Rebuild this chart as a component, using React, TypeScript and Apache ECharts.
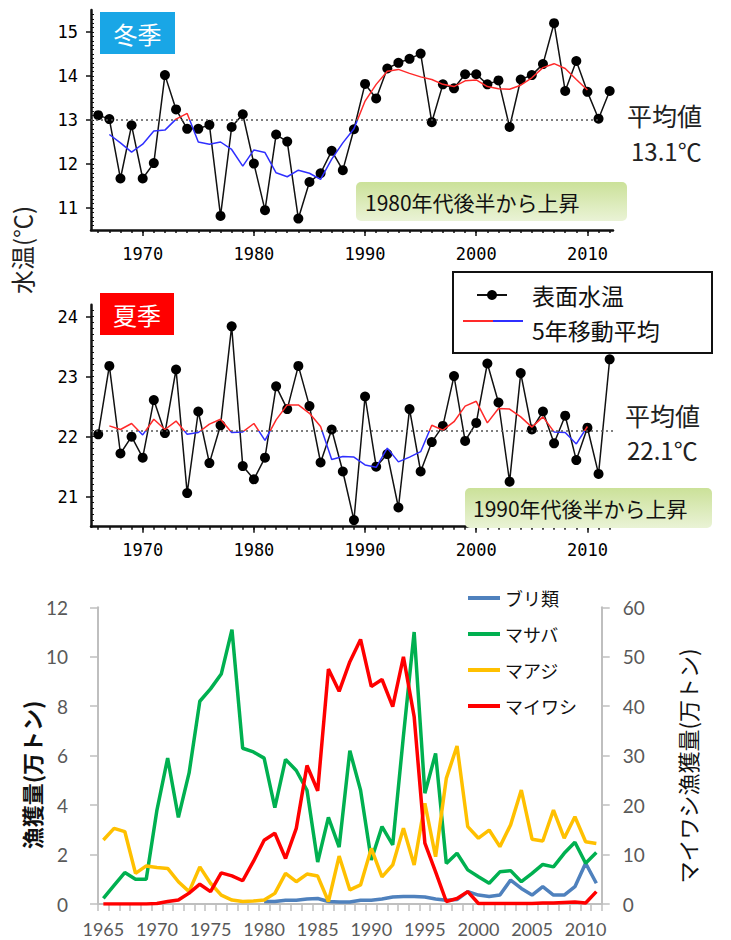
import React, { useEffect, useRef } from "react";
import * as echarts from "echarts";

// ---------- data ----------
const TEMP_START = 1966;
const WINTER_TEMP = [
  13.11, 13.02, 11.67, 12.88, 11.67, 12.02, 14.02, 13.24, 12.8, 12.8,
  12.89, 10.82, 12.84, 13.13, 12.01, 10.95, 12.67, 12.51, 10.76, 11.59,
  11.79, 12.3, 11.86, 12.79, 13.82, 13.49, 14.17, 14.3, 14.39, 14.51,
  12.95, 13.81, 13.72, 14.04, 14.04, 13.81, 13.9, 12.84, 13.92, 14.02,
  14.27, 15.2, 13.66, 14.34, 13.64, 13.03, 13.66,
];
const MA_START = 1967;
const WINTER_MA = [
  12.67, 12.48, 12.27, 12.45, 12.75, 12.77, 13.02, 13.15, 12.5, 12.45,
  12.5, 12.33, 11.95, 12.32, 12.26, 11.8, 11.71, 11.86, 11.79, 11.65,
  12.11, 12.48, 12.8, 13.43, 13.81, 14.11, 14.15, 14.06, 13.98, 13.92,
  13.81, 13.76, 13.89, 13.91, 13.76, 13.71, 13.7, 13.79, 13.96, 14.19,
  14.28, 14.17, 13.92, 13.68,
];
const SUMMER_TEMP = [
  22.04, 23.18, 21.72, 22.0, 21.65, 22.61, 22.06, 23.12, 21.06, 22.42,
  21.56, 22.19, 23.84, 21.51, 21.29, 21.65, 22.84, 22.46, 23.18, 22.51,
  21.57, 22.12, 21.42, 20.61, 22.67, 21.5, 21.71, 20.82, 22.46, 21.42,
  21.91, 22.18, 23.01, 21.93, 22.23, 23.22, 22.57, 21.25, 23.06, 22.12,
  22.42, 21.89, 22.35, 21.61, 22.15, 21.38, 23.29,
];
const SUMMER_MA = [
  22.18, 22.12, 22.22, 22.03, 22.29, 22.12, 22.26, 22.04, 22.07, 22.21,
  22.29, 22.07, 22.08, 22.22, 21.94, 22.28, 22.53, 22.53, 22.39, 22.17,
  21.62, 21.67, 21.66, 21.53, 21.49, 21.81, 21.58, 21.66, 21.75, 22.19,
  22.11, 22.25, 22.51, 22.59, 22.23, 22.47, 22.46, 22.33, 22.16, 22.33,
  22.08, 22.07, 21.88, 22.17,
];
const WINTER_MEAN_LINE = 13.0;
const SUMMER_MEAN_LINE = 22.1;
const WINTER_MEAN_TEXT = "13.1℃";
const SUMMER_MEAN_TEXT = "22.1℃";

const CATCH_YEARS = Array.from({ length: 47 }, (_, i) => String(1965 + i));
const BURI = [
  null, null, null, null, null, null, null, null, null, null,
  null, null, null, null, null, 0.1, 0.1, 0.15, 0.15, 0.2,
  0.22, 0.1, 0.08, 0.08, 0.15, 0.15, 0.2, 0.28, 0.3, 0.3,
  0.28, 0.2, 0.15, 0.18, 0.5, 0.36, 0.3, 0.36, 0.97, 0.63,
  0.36, 0.7, 0.36, 0.36, 0.7, 1.65, 0.84,
];
const MASABA = [
  0.23, 0.75, 1.27, 1.0, 1.0, 3.8, 5.9, 3.5, 5.3, 8.2,
  8.7, 9.3, 11.1, 6.3, 6.15, 5.9, 3.9, 5.85, 5.4, 4.6,
  1.7, 3.5, 2.3, 6.2, 4.6, 1.78, 3.13, 2.39, 6.8, 11.0,
  4.48, 6.09, 1.64, 2.05, 1.38, 1.1, 0.84, 1.3, 1.35, 0.9,
  1.24, 1.6, 1.5, 2.05, 2.5, 1.65, 2.08,
];
const MAAJI = [
  2.59, 3.06, 2.93, 1.24, 1.54, 1.48, 1.44, 0.9, 0.5, 1.5,
  0.84, 0.36, 0.16, 0.1, 0.12, 0.16, 0.43, 1.24, 0.9, 1.21,
  1.13, 0.1, 1.94, 0.57, 0.77, 2.25, 1.1, 1.58, 3.06, 1.58,
  4.07, 1.91, 5.08, 6.39, 3.13, 2.66, 2.99, 2.32, 3.2, 4.61,
  2.62, 2.55, 3.8, 2.66, 3.53, 2.52, 2.45,
];
const MAIWASHI = [
  0, 0, 0, 0, 0, 0.1, 0.5, 0.8, 2.2, 4.0,
  2.5, 6.3, 5.7, 4.7, 8.6, 12.9, 14.3, 9.2, 15.3, 28.0,
  22.9, 47.5, 43.0, 49.0, 53.5, 44.0, 45.4, 39.9, 50.0, 37.9,
  12.3, 6.5, 0.5, 1.1, 2.5, 0.1, 0.1, 0.1, 0.1, 0.1,
  0.1, 0.2, 0.2, 0.3, 0.4, 0.2, 2.5,
];

const BLUE = "#2f2fff";
const RED = "#ff2a2a";
const CJK = "'Noto Sans CJK JP', sans-serif";
const MONO = "'DejaVu Sans Mono', monospace";

function pairs(start: number, vals: number[]) {
  return vals.map((v, i) => [start + i, v]);
}

// ---------- layout of the two temperature panels ----------
const X_MIN = 1965.35;
const X_MAX = 2012.3;
const PLOT_LEFT = 91;
const PLOT_W = 522;

type Panel = {
  top: number; height: number; yMin: number; yMax: number;
  labMin: number; labMax: number; rulMin: number; rulMax: number;
};
const WINTER_P: Panel = { top: 10, height: 220, yMin: 10.5, yMax: 15.5, labMin: 11, labMax: 15, rulMin: 10.6, rulMax: 15.4 };
const SUMMER_P: Panel = { top: 304.7, height: 222, yMin: 20.5, yMax: 24.2, labMin: 21, labMax: 24, rulMin: 20.6, rulMax: 24.1 };

const px = (yr: number) => PLOT_LEFT + ((yr - X_MIN) * PLOT_W) / (X_MAX - X_MIN);
const py = (p: Panel, v: number) => p.top + ((p.yMax - v) * p.height) / (p.yMax - p.yMin);

const hidden = {
  axisLine: { show: false }, axisTick: { show: false }, axisLabel: { show: false }, splitLine: { show: false },
};

function panelGrids(p: Panel) {
  return [
    { left: PLOT_LEFT, top: p.top, width: PLOT_W, height: p.height },
    { left: px(1970), top: py(p, p.labMax), width: px(2010) - px(1970), height: py(p, p.labMin) - py(p, p.labMax) },
    { left: px(1966), top: py(p, p.rulMax), width: px(2012) - px(1966), height: py(p, p.rulMin) - py(p, p.rulMax) },
  ].map((g) => ({ ...g, outerBoundsMode: "none" }));
}
function panelX(p: Panel, g0: number) {
  const bottom = p.top + p.height;
  return [
    {
      type: "value", gridIndex: g0, position: "bottom", min: X_MIN, max: X_MAX, ...hidden,
      axisLine: { show: true, lineStyle: { color: "#111", width: 2.5 } },
    },
    {
      type: "value", gridIndex: g0 + 1, position: "bottom", min: 1970, max: 2010, interval: 10,
      offset: bottom - py(p, p.labMin), ...hidden,
      axisTick: { show: true, length: 6, lineStyle: { color: "#111", width: 1.5 } },
      axisLabel: {
        show: true, margin: 15, fontFamily: MONO, fontSize: 17, color: "#000",
        formatter: (v: number) => String(v),
      },
    },
    {
      type: "value", gridIndex: g0 + 2, position: "bottom", min: 1966, max: 2012, interval: 1,
      offset: bottom - py(p, p.rulMin), ...hidden,
      axisTick: { show: true, length: 3, lineStyle: { color: "#111", width: 1.5 } },
    },
  ];
}
function panelY(p: Panel, g0: number) {
  return [
    {
      type: "value", gridIndex: g0, position: "left", min: p.yMin, max: p.yMax, ...hidden,
      axisLine: { show: true, lineStyle: { color: "#111", width: 2.5 } },
    },
    {
      type: "value", gridIndex: g0 + 1, position: "left", min: p.labMin, max: p.labMax, interval: 1,
      offset: px(1970) - PLOT_LEFT, ...hidden,
      axisTick: { show: true, length: 5, lineStyle: { color: "#111", width: 1.5 } },
      axisLabel: { show: true, margin: 13, fontFamily: MONO, fontSize: 17, color: "#000" },
    },
    {
      type: "value", gridIndex: g0 + 2, position: "left", min: p.rulMin, max: p.rulMax, interval: 0.1,
      offset: px(1966) - PLOT_LEFT, ...hidden,
      axisTick: { show: true, inside: true, length: 3, lineStyle: { color: "#111", width: 1 } },
    },
  ];
}

function meanLine(y: number, x2: number) {
  return {
    silent: true,
    symbol: "none",
    label: { show: false },
    lineStyle: { type: [2, 3], color: "#555", width: 1.5 },
    data: [[{ coord: [X_MIN, y] }, { coord: [x2, y] }]],
  };
}

// red above the mean, blue below (gradient in screen coordinates of the panel)
function maColor(p: Panel, mean: number) {
  const f = (py(p, mean) - p.top) / p.height;
  return new echarts.graphic.LinearGradient(
    0, p.top, 0, p.top + p.height,
    [
      { offset: 0, color: RED },
      { offset: f, color: RED },
      { offset: f, color: BLUE },
      { offset: 1, color: BLUE },
    ],
    true
  );
}

const greenFill = () =>
  new echarts.graphic.LinearGradient(0, 0, 0, 1, [
    { offset: 0, color: "#cbe199" },
    { offset: 1, color: "#eaf3d6" },
  ]);

export default function App() {
  const ref = useRef<HTMLDivElement>(null);
  useEffect(() => {
    if (!ref.current) return;
    const chart = echarts.init(ref.current, null, { renderer: "svg" });
    const option: any = {
      animation: false,
      backgroundColor: "#fff",
      grid: [
        ...panelGrids(WINTER_P),
        ...panelGrids(SUMMER_P),
        { left: 98, top: 607.3, width: 503.7, height: 296.7, outerBoundsMode: "none" },
      ],
      xAxis: [
        ...panelX(WINTER_P, 0),
        ...panelX(SUMMER_P, 3),
        {
          type: "category", gridIndex: 6, position: "bottom", data: CATCH_YEARS, boundaryGap: true,
          axisLine: { lineStyle: { color: "#bfbfbf", width: 2 } },
          axisTick: { show: true, interval: 0, length: 7, lineStyle: { color: "#bfbfbf", width: 1.5 } },
          axisLabel: { interval: 4, margin: 16, fontFamily: "Lato, sans-serif", fontSize: 18, color: "#595959" },
          splitLine: { show: false },
        },
      ],
      yAxis: [
        ...panelY(WINTER_P, 0),
        ...panelY(SUMMER_P, 3),
        {
          type: "value", gridIndex: 6, position: "left", min: 0, max: 12, interval: 2,
          axisLine: { show: true, lineStyle: { color: "#bfbfbf", width: 2 } },
          axisTick: { show: true, length: 8, lineStyle: { color: "#bfbfbf", width: 1.5 } },
          axisLabel: { margin: 30, fontFamily: "Lato, sans-serif", fontSize: 19, color: "#595959" },
          splitLine: { show: false },
        },
        {
          type: "value", gridIndex: 6, position: "right", min: 0, max: 60, interval: 10,
          axisLine: { show: true, lineStyle: { color: "#bfbfbf", width: 2 } },
          axisTick: { show: true, length: 8, lineStyle: { color: "#bfbfbf", width: 1.5 } },
          axisLabel: { margin: 21, fontFamily: "Lato, sans-serif", fontSize: 19, color: "#595959" },
          splitLine: { show: false },
        },
      ],
      legend: {
        orient: "vertical",
        left: 463,
        top: 582,
        itemGap: 14,
        itemWidth: 32,
        itemHeight: 4,
        icon: "rect",
        selectedMode: false,
        textStyle: { fontFamily: CJK, fontSize: 18, color: "#111", lineHeight: 22 },
        data: ["ブリ類", "マサバ", "マアジ", "マイワシ"],
      },
      series: [
        {
          name: "表面水温(冬)", type: "line", xAxisIndex: 0, yAxisIndex: 0,
          data: pairs(TEMP_START, WINTER_TEMP),
          symbol: "circle", symbolSize: 10,
          itemStyle: { color: "#000" },
          lineStyle: { color: "#111", width: 1.5 },
          markLine: meanLine(WINTER_MEAN_LINE, 2011),
          z: 2,
        },
        {
          name: "5年移動平均(冬)", type: "line", xAxisIndex: 0, yAxisIndex: 0,
          data: pairs(MA_START, WINTER_MA), showSymbol: false, symbol: "none",
          lineStyle: { width: 1.5, color: maColor(WINTER_P, WINTER_MEAN_LINE) }, z: 3,
        },
        {
          name: "表面水温(夏)", type: "line", xAxisIndex: 3, yAxisIndex: 3,
          data: pairs(TEMP_START, SUMMER_TEMP),
          symbol: "circle", symbolSize: 10,
          itemStyle: { color: "#000" },
          lineStyle: { color: "#111", width: 1.5 },
          markLine: meanLine(SUMMER_MEAN_LINE, X_MAX),
          z: 2,
        },
        {
          name: "5年移動平均(夏)", type: "line", xAxisIndex: 3, yAxisIndex: 3,
          data: pairs(MA_START, SUMMER_MA), showSymbol: false, symbol: "none",
          lineStyle: { width: 1.5, color: maColor(SUMMER_P, SUMMER_MEAN_LINE) }, z: 3,
        },
        {
          name: "ブリ類", type: "line", xAxisIndex: 6, yAxisIndex: 6, data: BURI,
          symbol: "none", color: "#4f81bd", lineStyle: { width: 3.5, color: "#4f81bd" },
        },
        {
          name: "マサバ", type: "line", xAxisIndex: 6, yAxisIndex: 6, data: MASABA,
          symbol: "none", color: "#00b050", lineStyle: { width: 3.5, color: "#00b050" },
        },
        {
          name: "マアジ", type: "line", xAxisIndex: 6, yAxisIndex: 6, data: MAAJI,
          symbol: "none", color: "#ffc000", lineStyle: { width: 3.5, color: "#ffc000" },
        },
        {
          name: "マイワシ", type: "line", xAxisIndex: 6, yAxisIndex: 7, data: MAIWASHI,
          symbol: "none", color: "#ff0000", lineStyle: { width: 3.5, color: "#ff0000" },
        },
      ],
      graphic: [
        // season tags
        { type: "rect", shape: { x: 100, y: 12, width: 75, height: 42 }, style: { fill: "#19a6e6" }, z: 10 },
        { type: "text", x: 137.5, y: 33, style: { text: "冬季", fill: "#fff", font: `24px ${CJK}`, align: "center", verticalAlign: "middle" }, z: 11 },
        { type: "rect", shape: { x: 100, y: 293, width: 74, height: 42 }, style: { fill: "#ff0000" }, z: 10 },
        { type: "text", x: 137, y: 314, style: { text: "夏季", fill: "#fff", font: `24px ${CJK}`, align: "center", verticalAlign: "middle" }, z: 11 },
        // trend boxes
        { type: "rect", shape: { x: 356, y: 182, width: 271, height: 39, r: 5 }, style: { fill: greenFill() }, z: 5 },
        { type: "text", x: 365, y: 201.5, style: { text: "1980年代後半から上昇", fill: "#111", font: `21px ${CJK}`, verticalAlign: "middle" }, z: 6 },
        { type: "rect", shape: { x: 465, y: 488, width: 247, height: 40, r: 5 }, style: { fill: greenFill() }, z: 5 },
        { type: "text", x: 473, y: 508, style: { text: "1990年代後半から上昇", fill: "#111", font: `21px ${CJK}`, verticalAlign: "middle" }, z: 6 },
        // mean labels
        { type: "text", x: 627, y: 115, style: { text: "平均値", fill: "#222", font: `25px ${CJK}`, verticalAlign: "middle" } },
        { type: "text", x: 631, y: 150, style: { text: WINTER_MEAN_TEXT, fill: "#222", font: `24px ${CJK}`, verticalAlign: "middle" } },
        { type: "text", x: 625, y: 415, style: { text: "平均値", fill: "#222", font: `25px ${CJK}`, verticalAlign: "middle" } },
        { type: "text", x: 627, y: 449, style: { text: SUMMER_MEAN_TEXT, fill: "#222", font: `24px ${CJK}`, verticalAlign: "middle" } },
        // y axis name (temperature)
        { type: "text", x: 21, y: 250, rotation: Math.PI / 2, style: { text: "水温(℃)", fill: "#222", font: `24px ${CJK}`, align: "center", verticalAlign: "middle" } },
        // temperature legend
        { type: "rect", shape: { x: 453, y: 272, width: 259, height: 81 }, style: { fill: "#fff", stroke: "#111", lineWidth: 2 }, z: 20 },
        { type: "line", shape: { x1: 477, y1: 295, x2: 507, y2: 295 }, style: { stroke: "#111", lineWidth: 2 }, z: 21 },
        { type: "circle", shape: { cx: 492, cy: 295, r: 5 }, style: { fill: "#000" }, z: 21 },
        { type: "text", x: 532, y: 295, style: { text: "表面水温", fill: "#111", font: `23px ${CJK}`, verticalAlign: "middle" }, z: 21 },
        { type: "line", shape: { x1: 463, y1: 321, x2: 493, y2: 321 }, style: { stroke: RED, lineWidth: 2 }, z: 21 },
        { type: "line", shape: { x1: 493, y1: 321, x2: 523, y2: 321 }, style: { stroke: BLUE, lineWidth: 2 }, z: 21 },
        { type: "text", x: 532, y: 330, style: { text: "5年移動平均", fill: "#111", font: `23px ${CJK}`, verticalAlign: "middle" }, z: 21 },
        // catch axis names
        { type: "text", x: 31, y: 775, rotation: Math.PI / 2, style: { text: "漁獲量(万トン)", fill: "#111", font: `bold 22px ${CJK}`, align: "center", verticalAlign: "middle" } },
        { type: "text", x: 687, y: 766, rotation: Math.PI / 2, style: { text: "マイワシ漁獲量(万トン)", fill: "#111", font: `22px ${CJK}`, align: "center", verticalAlign: "middle" } },
      ],
    };
    chart.setOption(option);
    return () => chart.dispose();
  }, []);
  return (
    <div
      ref={ref}
      style={{ position: "absolute", left: 0, top: 0, width: 731, height: 940 }}
    />
  );
}
